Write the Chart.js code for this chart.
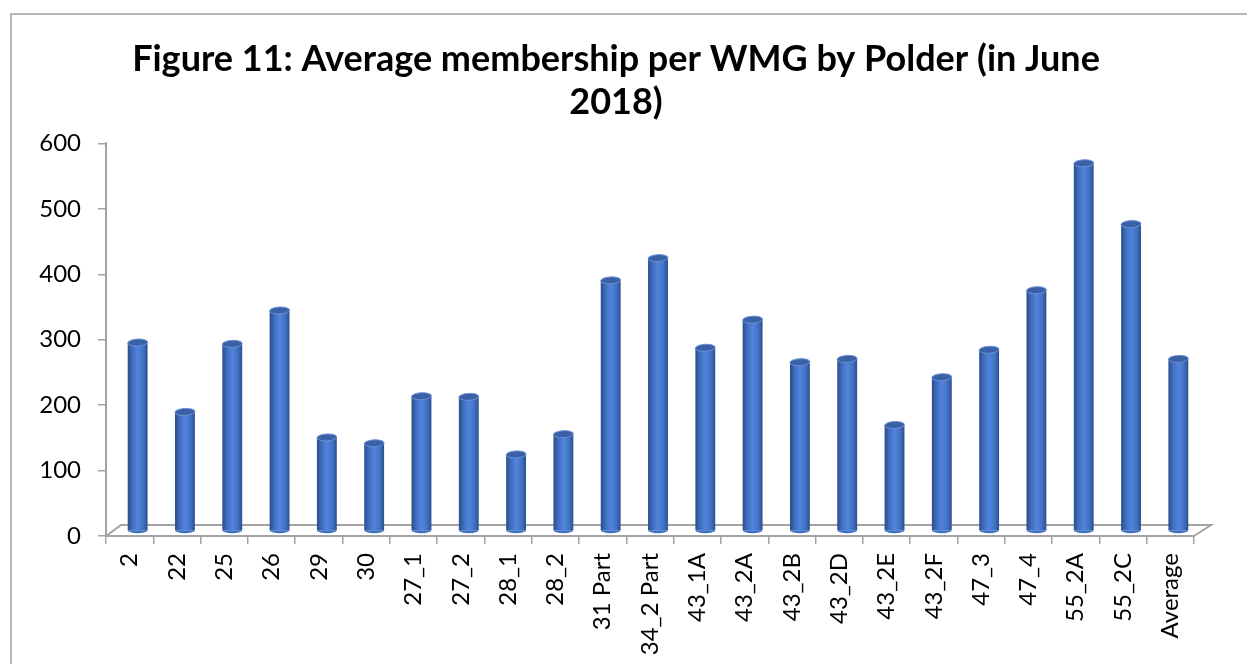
<!DOCTYPE html>
<html>
<head>
<meta charset="utf-8">
<script src="https://cdn.jsdelivr.net/npm/chart.js@4.4.1/dist/chart.umd.min.js"></script>
<style>
  html, body { margin: 0; padding: 0; background: #fff; }
  #wrap { width: 1247px; height: 664px; }
</style>
</head>
<body>
<div id="wrap"><canvas id="chart" width="1247" height="664"></canvas></div>
<script>
  // polders along the x axis
  polders = ['2', '22', '25', '26', '29', '30', '27_1', '27_2', '28_1', '28_2', '31 Part', '34_2 Part',
             '43_1A', '43_2A', '43_2B', '43_2D', '43_2E', '43_2F', '47_3', '47_4', '55_2A', '55_2C', 'Average']
  // average members per WMG
  members = [288, 182, 286, 337, 143, 134, 206, 205, 117, 148, 383, 417,
             280, 323, 258, 263, 162, 235, 277, 368, 562, 469, 263]
  yTicks = [0, 100, 200, 300, 400, 500, 600]

  const grey = '#a3a3a3';
  const dx = 8, dy = -5;       // bars sit half way into the floor
  const fx = 15, fy = -11;     // floor depth

  function barGradient(c) {
    const ch = c.chart;
    const x = ch.scales.x;
    if (!x || !ch.chartArea) return '#4472c4';
    const cx = x.getPixelForValue(c.dataIndex);
    const half = (x.width / polders.length) * 0.42 / 2;
    const g = ch.ctx.createLinearGradient(cx - half, 0, cx + half, 0);
    g.addColorStop(0, '#2a4d8a');
    g.addColorStop(0.25, '#416fc1');
    g.addColorStop(0.5, '#5184dc');
    g.addColorStop(0.78, '#4272c4');
    g.addColorStop(1, '#2b4f8d');
    return g;
  }

  const depth3d = {
    id: 'depth3d',
    beforeDraw: (chart) => {
      const { ctx, chartArea: { left, right, bottom } } = chart;
      ctx.save();
      // frame of the figure
      ctx.strokeStyle = '#a0a0a0';
      ctx.lineWidth = 1.5;
      ctx.beginPath();
      ctx.moveTo(11, 664);
      ctx.lineTo(11, 14);
      ctx.lineTo(1247, 14);
      ctx.stroke();
      // floor
      ctx.strokeStyle = grey;
      ctx.lineWidth = 2;
      ctx.beginPath();
      ctx.moveTo(left, bottom);
      ctx.lineTo(left + fx, bottom + fy);
      ctx.lineTo(right + fx + 2, bottom + fy);
      ctx.lineTo(right, bottom);
      ctx.stroke();
      ctx.restore();
    },
    beforeDatasetsDraw: (chart) => {
      chart.ctx.save();
      chart.ctx.translate(dx, dy);
    },
    afterDatasetsDraw: (chart) => {
      const { ctx } = chart;
      const meta = chart.getDatasetMeta(0);
      meta.data.forEach((bar) => {
        const w = bar.width / 2;
        // rounded foot
        ctx.fillStyle = '#4070c0';
        ctx.beginPath();
        ctx.ellipse(bar.x, bar.base, w, 3, 0, 0, Math.PI);
        ctx.fill();
        // lid
        ctx.fillStyle = '#3a61a6';
        ctx.strokeStyle = '#6a92d6';
        ctx.lineWidth = 1;
        ctx.beginPath();
        ctx.ellipse(bar.x, bar.y, w, 3.5, -0.05, 0, Math.PI * 2);
        ctx.fill();
        ctx.stroke();
      });
      ctx.restore();
    }
  };

  var chart = new Chart('chart', {
    type: 'bar',
    data: {
      labels: polders,
      datasets: [{
        label: 'Average membership',
        data: members,
        backgroundColor: barGradient,
        borderWidth: 0,
        categoryPercentage: 1,
        barPercentage: 0.42
      }]
    },
    options: {
      responsive: false,
      animation: false,
      layout: { padding: { left: 38, right: 53, top: 14, bottom: 0 } },
      plugins: {
        legend: { display: false },
        tooltip: { enabled: false },
        title: {
          display: true,
          text: ['Figure 11: Average membership per WMG by Polder (in June', '2018)'],
          color: '#000',
          font: { family: 'Lato', size: 36, weight: 'bold', lineHeight: 1.2 },
          padding: { top: 24, bottom: 19 }
        }
      },
      scales: {
        x: {
          afterFit: (s) => { s.height = 128; },
          grid: { display: true, drawOnChartArea: false, offset: true, color: grey, lineWidth: 1.5, tickLength: 8 },
          border: { color: grey, width: 2 },
          ticks: {
            minRotation: 90, maxRotation: 90, autoSkip: false, padding: 9,
            color: '#000', font: { family: 'Lato', size: 24 }
          }
        },
        y: {
          min: 0, max: 600,
          afterFit: (s) => { s.width = 68; },
          afterBuildTicks: (s) => { s.ticks = yTicks.map(v => ({ value: v })); },
          grid: { display: true, drawOnChartArea: false, color: grey, lineWidth: 1.5, tickLength: 8 },
          border: { color: grey, width: 2 },
          ticks: { padding: 17, color: '#000', font: { family: 'Lato', size: 24 } }
        }
      }
    },
    plugins: [depth3d]
  });
</script>
</body>
</html>
